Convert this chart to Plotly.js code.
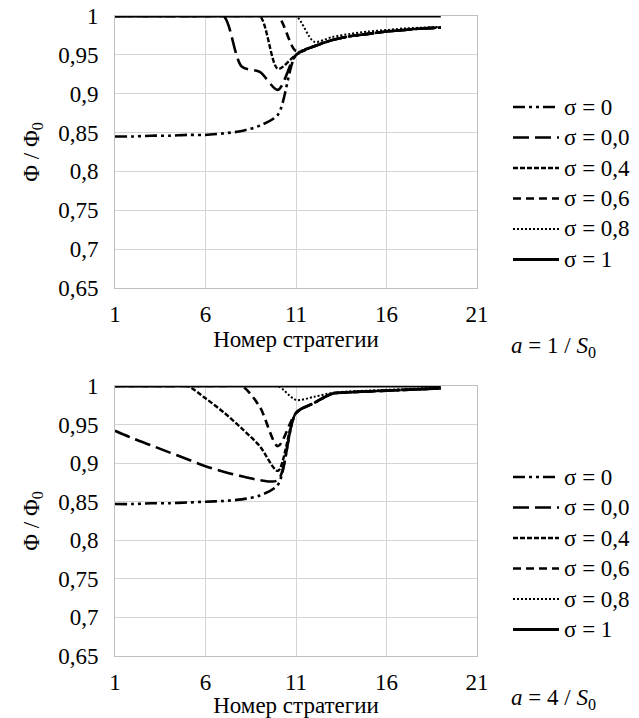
<!DOCTYPE html>
<html>
<head>
<meta charset="utf-8">
<script src="https://cdn.plot.ly/plotly-3.0.1.min.js"></script>
<style>html,body{margin:0;padding:0;background:#fff;}</style>
</head>
<body>
<div id="chart" style="width:639px;height:718px;"></div>
<script>
// strategy numbers
const strategies = [1,2,3,4,5,6,7,8,9,10,11,12,13,14,15,16,17,18,19];
const seriesNames = ["σ = 0", "σ = 0,0", "σ = 0,4", "σ = 0,6", "σ = 0,8", "σ = 1"];

// top chart: a = 1 / S0
const top_s0  = [0.845,0.845,0.846,0.846,0.847,0.847,0.849,0.852,0.859,0.873,0.950,0.961,0.969,0.974,0.977,0.980,0.982,0.984,0.985];
const top_s00 = [1,1,1,1,1,1,1,0.935,0.928,0.905,0.950,0.961,0.969,0.974,0.977,0.980,0.982,0.984,0.985];
const top_s04 = [1,1,1,1,1,1,1,1,1,0.932,0.950,0.961,0.969,0.974,0.977,0.980,0.982,0.984,0.985];
const top_s06 = [1,1,1,1,1,1,1,1,1,1,0.955,0.961,0.969,0.974,0.977,0.980,0.982,0.984,0.985];
const top_s08 = [1,1,1,1,1,1,1,1,1,1,1,0.967,0.973,0.977,0.980,0.982,0.984,0.985,0.986];
const top_s1  = [1,1,1,1,1,1,1,1,1,1,1,1,1,1,1,1,1,1,1];

// bottom chart: a = 4 / S0
const bot_s0  = [0.847,0.847,0.848,0.848,0.849,0.850,0.851,0.853,0.858,0.872,0.965,0.978,0.990,0.992,0.993,0.994,0.995,0.996,0.997];
const bot_s00 = [0.942,0.932,0.923,0.914,0.905,0.896,0.889,0.883,0.878,0.878,0.965,0.978,0.990,0.992,0.993,0.994,0.995,0.996,0.997];
const bot_s04 = [1,1,1,1,1,0.984,0.966,0.945,0.922,0.890,0.965,0.978,0.990,0.992,0.993,0.994,0.995,0.996,0.997];
const bot_s06 = [1,1,1,1,1,1,1,1,0.973,0.922,0.965,0.978,0.990,0.992,0.993,0.994,0.995,0.996,0.997];
const bot_s08 = [1,1,1,1,1,1,1,1,1,1,0.982,0.986,0.991,0.993,0.994,0.995,0.996,0.997,0.998];
const bot_s1  = [1,1,1,1,1,1,1,1,1,1,1,1,1,1,1,1,1,1,1];

// axis ticks
const xTicks = [1,6,11,16,21];
const xTickText = ["1","6","11","16","21"];
const yTickVals = [0.65,0.7,0.75,0.8,0.85,0.9,0.95,1];
const yTickText = ["0,65","0,7","0,75","0,8","0,85","0,9","0,95","1"];

const dashes = ["12px,4px,3px,4px,3px,4px", "16px,6px", "5px,2px", "8px,5px", "2px,2px", "solid"];
const widths = [2.6, 2.6, 2.4, 2.6, 2, 3];

const topSeries = [top_s0, top_s00, top_s04, top_s06, top_s08, top_s1];
const botSeries = [bot_s0, bot_s00, bot_s04, bot_s06, bot_s08, bot_s1];

const FAM = 'Times New Roman';
const FS = 23;
const fnt = {family: FAM, size: FS, color: '#000000'};

const traces = [];
topSeries.forEach((ys, i) => {
  traces.push({x: strategies, y: ys, type: 'scatter', mode: 'lines', name: seriesNames[i],
    xaxis: 'x', yaxis: 'y', showlegend: false,
    line: {color: '#000000', width: widths[i], dash: dashes[i], shape: 'spline', smoothing: 0.8}});
});
botSeries.forEach((ys, i) => {
  traces.push({x: strategies, y: ys, type: 'scatter', mode: 'lines', name: seriesNames[i],
    xaxis: 'x2', yaxis: 'y2', showlegend: false,
    line: {color: '#000000', width: widths[i], dash: dashes[i], shape: 'spline', smoothing: 0.8}});
});

const W = 639, H = 718, ML = 115, MR = 162, MT = 16, MB = 62;
const PW = W - ML - MR, PH = H - MT - MB;
const px2x = p => (p - ML) / PW;
const px2y = p => (H - MB - p) / PH;

const axX = (anchor) => ({
  domain: [0,1], anchor: anchor, range: [1,21], tickmode: 'array', tickvals: xTicks, ticktext: xTickText,
  showgrid: true, gridcolor: '#d4d4d4', gridwidth: 1, zeroline: false,
  showline: true, linecolor: '#bfbfbf', linewidth: 1, mirror: true,
  ticks: 'outside', ticklen: 5, tickcolor: 'rgba(0,0,0,0)',
  tickfont: fnt,
  title: {text: 'Номер стратегии', font: fnt, standoff: 0}
});
const axY = (anchor, dom) => ({
  domain: dom, anchor: anchor, range: [0.65,1], tickmode: 'array', tickvals: yTickVals, ticktext: yTickText,
  showgrid: true, gridcolor: '#d4d4d4', gridwidth: 1, zeroline: false,
  showline: true, linecolor: '#bfbfbf', linewidth: 1, mirror: true,
  ticks: 'outside', ticklen: 11, tickcolor: 'rgba(0,0,0,0)',
  tickfont: fnt,
  title: {text: 'Φ / Φ<sub>0</sub>', font: fnt, standoff: 12}
});

// hand-placed legends (one per panel)
const shapes = [];
const annotations = [];
const legendTops = [107, 477];
legendTops.forEach(y0 => {
  seriesNames.forEach((nm, i) => {
    const yp = px2y(y0 + i * 30.5);
    shapes.push({type: 'line', xref: 'paper', yref: 'paper',
      x0: px2x(513), x1: px2x(559), y0: yp, y1: yp,
      line: {color: '#000000', width: widths[i], dash: dashes[i]}});
    annotations.push({xref: 'paper', yref: 'paper', x: px2x(562), y: yp,
      xanchor: 'left', yanchor: 'middle', showarrow: false, text: nm, font: fnt});
  });
});
annotations.push({xref: 'paper', yref: 'paper', x: px2x(553), y: px2y(347), xanchor: 'center', yanchor: 'middle', showarrow: false,
  text: '<i>a</i> = 1 / <i>S</i><sub>0</sub>', font: fnt});
annotations.push({xref: 'paper', yref: 'paper', x: px2x(553), y: px2y(699), xanchor: 'center', yanchor: 'middle', showarrow: false,
  text: '<i>a</i> = 4 / <i>S</i><sub>0</sub>', font: fnt});

const layout = {
  width: W, height: H,
  margin: {l: ML, r: MR, t: MT, b: MB},
  font: fnt,
  paper_bgcolor: '#ffffff', plot_bgcolor: '#ffffff',
  showlegend: false,
  xaxis: axX('y'),
  yaxis: axY('x', [px2y(288), 1]),
  xaxis2: axX('y2'),
  yaxis2: axY('x2', [0, px2y(386)]),
  shapes: shapes,
  annotations: annotations
};

Plotly.newPlot('chart', traces, layout, {staticPlot: true});
</script>
</body>
</html>
